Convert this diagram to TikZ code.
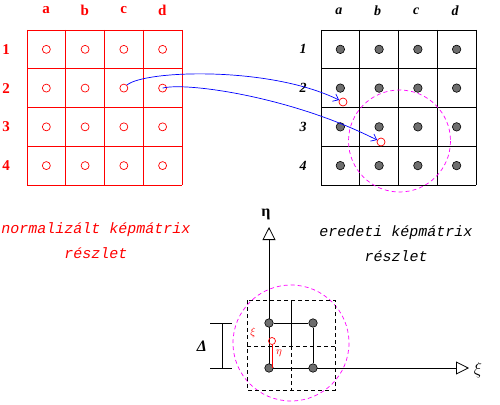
\documentclass[tikz,border=0pt]{standalone}
\usepackage{amsmath,amssymb}
\usepackage{fontspec}
\setmainfont{Liberation Serif}
\newfontfamily\typefam{Liberation Mono}
\usetikzlibrary{arrows.meta}
\definecolor{GridRed}{HTML}{FF0000}
\definecolor{LinkBlue}{HTML}{0000FF}
\definecolor{DotGray}{HTML}{6E6E6E}
\definecolor{Ring}{HTML}{FF00FF}
\tikzset{
  lgrid/.style={draw=GridRed,line width=.9pt},
  rgrid/.style={draw=black,line width=.9pt},
  hollow/.style={circle,draw=GridRed,line width=.7pt,inner sep=0pt,minimum size=8pt},
  dot/.style={circle,draw=black,fill=DotGray,line width=.6pt,inner sep=0pt,minimum size=8.5pt},
  lidx/.style={text=GridRed,font=\bfseries\fontsize{15}{15}\selectfont},
  ridx/.style={font=\bfseries\itshape\fontsize{14}{14}\selectfont},
  caption/.style={font=\typefam\itshape\fontsize{15}{25}\selectfont,align=center},
  link/.style={-{Straight Barb[length=5pt,width=8pt]},draw=LinkBlue,line width=.7pt},
  ring/.style={draw=Ring,line width=.7pt,dash pattern=on 4pt off 3pt},
  axis/.style={-{Triangle[open,length=13pt,width=13pt]},line width=.8pt},
  frame/.style={line width=.8pt,dash pattern=on 4pt off 3pt}
}

\begin{document}
\begin{tikzpicture}[x=1pt,y=-1pt]
  \useasboundingbox (0,0) rectangle (500,404);
  % normalized matrix (left)
  \foreach \i in {0,...,4} {
    \draw[lgrid] (27+38.75*\i,30) -- (27+38.75*\i,185);
    \draw[lgrid] (27,30+38.75*\i) -- (182,30+38.75*\i);
  }
  % original matrix (right)
  \foreach \i in {0,...,4} {
    \draw[rgrid] (321+38.75*\i,30) -- (321+38.75*\i,185);
    \draw[rgrid] (321,30+38.75*\i) -- (476,30+38.75*\i);
  }
  \foreach \c/\t in {1/a,2/b,3/c,4/d} {
    \node[lidx] (lcol\t) at (7.4+38.75*\c,10) {\t};
    \node[ridx] (rcol\t) at (300+38.75*\c,11) {\t};
  }
  \foreach \r in {1,...,4} {
    \node[lidx] (lrow\r) at (6,10.6+38.75*\r) {\r};
    \node[ridx] (rrow\r) at (303,10.6+38.75*\r) {\r};
    \foreach \c in {1,...,4} {
      \node[hollow] (L\r\c) at (7.6+38.75*\c,10.6+38.75*\r) {};
      \node[dot] (R\r\c) at (301.6+38.75*\c,10.6+38.75*\r) {};
    }
  }
  \draw[ring] (399.5,141) circle[radius=51];
  \node[hollow] (hita) at (343,102) {};
  \node[hollow] (hitb) at (381,142) {};
  \draw[link] (L23.north east) .. controls (145,70) and (270,66) .. (hita);
  \draw[link] (L24.center) .. controls (185,82) and (290,96) .. (hitb);

  \node[caption,text=GridRed] (ncap) at (96,241) {normalizált képmátrix\\részlet};
  \node[caption] (ecap) at (396,244) {eredeti képmátrix\\részlet};

  % interpolation neighbourhood
  \coordinate (orig) at (269,368);
  \coordinate (etatip) at (269,227);
  \coordinate (xitip) at (469,368);
  \draw[ring] (291,343) circle[radius=58];
  \draw[frame] (247,300) rectangle (335,390);
  \draw[frame] (247,346) -- (335,346);
  \draw[frame] (291,346) -- (291,390);
  \draw[line width=.8pt] (291,300) -- (291,346);
  \draw[axis] (orig) -- (etatip);
  \draw[axis] (orig) -- (xitip);
  \node[font=\bfseries\fontsize{16}{16}\selectfont] (etalab) at (266,214) {η};
  \node[font=\fontsize{18}{18}\selectfont] (xilab) at (478,370) {$\xi$};
  \node[dot] (P00) at (269,368) {};
  \node[dot] (P10) at (313,368) {};
  \node[dot] (P01) at (269,323) {};
  \node[dot] (P11) at (313,323) {};
  \draw[line width=.8pt] (P01) -- (P11) -- (P10);
  \node[hollow,minimum size=7pt] (probe) at (272,341) {};
  \draw[draw=GridRed,line width=.8pt] (probe.south) -- (probe.south |- P00);
  \node[text=GridRed,font=\fontsize{11}{11}\selectfont] (xioff) at (253,333) {$\xi$};
  \node[text=GridRed,font=\fontsize{11}{11}\selectfont] (etaoff) at (279,353) {$\eta$};
  % spacing
  \draw[line width=.7pt] (210,323) -- (232,323);
  \draw[line width=.7pt] (210,368) -- (232,368);
  \draw[line width=.7pt] (222,323) -- (222,368);
  \node[font=\bfseries\itshape\fontsize{16}{16}\selectfont] (dlab) at (202,346) {Δ};
\end{tikzpicture}
\end{document}
